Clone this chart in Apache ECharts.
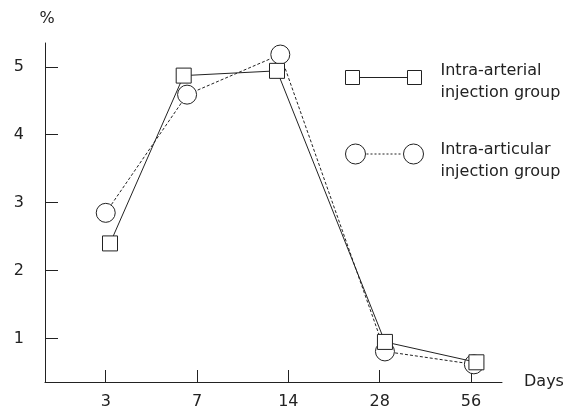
<!DOCTYPE html>
<html>
<head>
<meta charset="utf-8">
<script src="https://cdn.jsdelivr.net/npm/echarts@6/dist/echarts.min.js"></script>
<style>html,body{margin:0;padding:0;background:#fff}#c{width:570px;height:410px}</style>
</head>
<body>
<div id="c"></div>
<script>
// Category tick labels (days)
var dayLabels = ['3', '7', '14', '28', '56'];
var yTicks = [1, 2, 3, 4, 5];
// Series names
var arterialName = 'Intra-arterial injection group';
var articularName = 'Intra-articular injection group';
// Horizontal positions of markers (in day-index units, as drawn in the original)
var arterialX = [0.047, 0.854, 1.876, 3.058, 4.06];
var articularX = [0.0, 0.891, 1.912, 3.058, 4.032];
// Values (%)
var arterialY = [2.40, 4.87, 4.94, 0.95, 0.65];
var articularY = [2.85, 4.59, 5.18, 0.81, 0.62];

function pairs(xs, ys) { return xs.map(function (x, i) { return [x, ys[i]]; }); }

var FONT = 'DejaVu Sans';
var INK = '#222';

// legend icons (an invisible move-to point below extends the icon box so the text sits lower)
var squarePath = 'path://M0,0h14v14h-14z M62,0h14v14h-14z M14,7H62 M0,22';
var dots = '';
for (var d = 21; d < 57; d += 4) { dots += ' M' + d + ',10h2'; }
var circlePath = 'path://M0,10a10,10 0 1,0 20,0a10,10 0 1,0 -20,0z M58,10a10,10 0 1,0 20,0a10,10 0 1,0 -20,0z' + dots + ' M0,33';

function legendCfg(name, top, icon, w, h, padLeft) {
  return {
    data: [{ name: name, icon: icon }],
    left: 345, top: top, padding: 0, orient: 'vertical',
    itemWidth: w, itemHeight: h,
    selectedMode: false,
    itemStyle: { color: '#fff', borderColor: INK, borderWidth: 1 },
    formatter: function (n) { return n.replace(' injection', '\ninjection'); },
    textStyle: { fontFamily: FONT, fontSize: 16, color: INK, lineHeight: 22, padding: [0, 0, 0, padLeft] }
  };
}

var chart = echarts.init(document.getElementById('c'), null, { renderer: 'canvas' });
chart.setOption({
  animation: false,
  backgroundColor: '#fff',
  grid: { left: 45, right: 68, top: 43, bottom: 25, containLabel: false },
  legend: [
    legendCfg(arterialName, 59.5, squarePath, 76, 22, 14),
    legendCfg(articularName, 138.5, circlePath, 78, 33, 12)
  ],
  xAxis: {
    type: 'value', min: -0.665, max: 4.34,
    name: 'Days', nameLocation: 'end', nameGap: 22,
    nameTextStyle: { fontFamily: FONT, fontSize: 16, color: INK, verticalAlign: 'middle' },
    splitLine: { show: false },
    axisLine: { show: true, onZero: false, lineStyle: { color: INK, width: 1 } },
    axisTick: { show: true, inside: true, length: 12, customValues: [0, 1, 2, 3, 4], lineStyle: { color: INK } },
    axisLabel: {
      customValues: [0, 1, 2, 3, 4], margin: 12,
      fontFamily: FONT, fontSize: 16, color: INK,
      formatter: function (v) { return dayLabels[Math.round(v)]; }
    }
  },
  yAxis: {
    type: 'value', min: 0.36, max: 5.35,
    name: '%', nameLocation: 'end', nameGap: 16,
    nameTextStyle: { fontFamily: FONT, fontSize: 16, color: INK, padding: [0, 0, 0, 4] },
    splitLine: { show: false },
    axisLine: { show: true, onZero: false, lineStyle: { color: INK, width: 1 } },
    axisTick: { show: true, inside: true, length: 13, customValues: yTicks, lineStyle: { color: INK } },
    axisLabel: {
      customValues: yTicks, margin: 21,
      fontFamily: FONT, fontSize: 16, color: INK
    }
  },
  series: [
    {
      name: articularName, type: 'line',
      data: pairs(articularX, articularY),
      symbol: 'circle', symbolSize: 19,
      lineStyle: { color: INK, width: 1, type: [3, 2] },
      itemStyle: { color: '#fff', borderColor: INK, borderWidth: 1 },
      emphasis: { disabled: true }, z: 2
    },
    {
      name: arterialName, type: 'line',
      data: pairs(arterialX, arterialY),
      symbol: 'rect', symbolSize: 15,
      lineStyle: { color: INK, width: 1 },
      itemStyle: { color: '#fff', borderColor: INK, borderWidth: 1 },
      emphasis: { disabled: true }, z: 3
    }
  ]
});
</script>
</body>
</html>
